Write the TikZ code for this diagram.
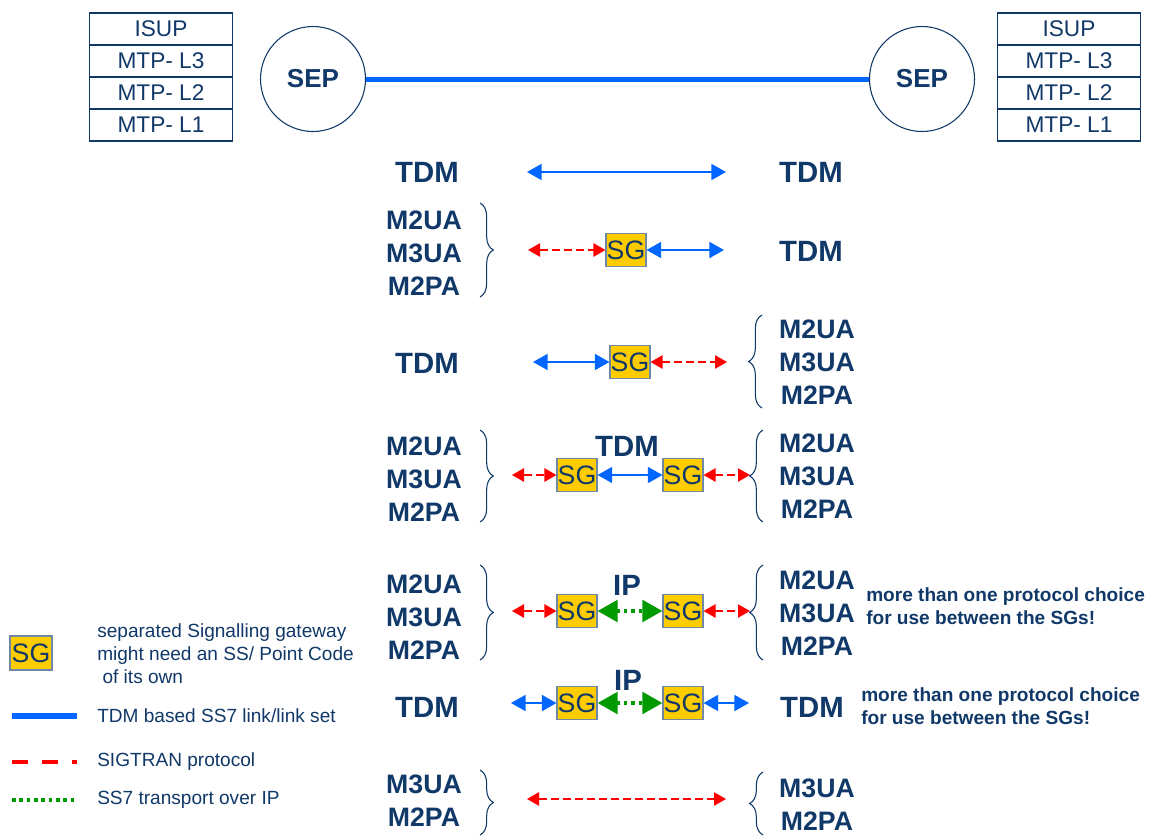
\documentclass[tikz,border=0pt]{standalone}
\usepackage{fontspec}
\setmainfont{Liberation Sans}
\usetikzlibrary{positioning,arrows.meta,decorations.pathreplacing}

\definecolor{navy}{RGB}{16,56,104}
\definecolor{tdmblue}{RGB}{0,102,255}
\definecolor{sigred}{RGB}{255,0,0}
\definecolor{ipgreen}{RGB}{0,153,0}
\definecolor{sgyellow}{RGB}{255,204,0}

\tikzset{
  layer/.style={draw=navy, line width=0.8pt, minimum width=107pt, minimum height=24pt, inner sep=0pt, outer sep=0pt, text=navy, font=\fontsize{17}{17}\selectfont},
  sepnode/.style={circle, draw=navy, line width=0.8pt, minimum size=78.75pt, inner sep=0pt, text=navy, font=\bfseries\fontsize{19.5}{20}\selectfont},
  sg/.style={draw=navy!60, line width=0.8pt, fill=sgyellow, minimum width=30pt, minimum height=25pt, inner sep=0pt, text=navy, font=\fontsize{20}{20}\selectfont},
  big/.style={text=navy, font=\bfseries\fontsize{22}{22}\selectfont},
  proto/.style={align=center, text=navy, font=\bfseries\fontsize{20}{24.75}\selectfont},
  note/.style={anchor=west, align=left, inner sep=0pt, text=navy, font=\bfseries\fontsize{14.3}{17.25}\selectfont},
  legtxt/.style={anchor=west, align=left, inner sep=0pt, text=navy, font=\fontsize{14.3}{17.25}\selectfont},
  tdm/.style={draw=tdmblue, line width=1.5pt, {Triangle[length=11pt,width=12pt]}-{Triangle[length=11pt,width=12pt]}},
  sigtran/.style={draw=sigred, line width=1.1pt, dash pattern=on 6pt off 3pt, {Triangle[length=9pt,width=10pt]}-{Triangle[length=9pt,width=10pt]}},
  ss7ip/.style={draw=ipgreen, line width=3pt, dash pattern=on 2.5pt off 3pt, {Triangle[length=15pt,width=16pt]}-{Triangle[length=15pt,width=16pt]}},
  brc/.style={draw=navy, line width=0.8pt, decorate, decoration={brace, amplitude=10pt}},
}

\begin{document}
\begin{tikzpicture}[x=0.75pt,y=0.75pt,yscale=-1,xscale=1]
\useasboundingbox (0,0) rectangle (1149,836);

% Protocol stacks
\node[layer] (isupl) at (161,29) {ISUP};
\node[layer, below=0pt of isupl] (mtp3l) {MTP- L3};
\node[layer, below=0pt of mtp3l] (mtp2l) {MTP- L2};
\node[layer, below=0pt of mtp2l] (mtp1l) {MTP- L1};
\node[layer] (isupr) at (1069,29) {ISUP};
\node[layer, below=0pt of isupr] (mtp3r) {MTP- L3};
\node[layer, below=0pt of mtp3r] (mtp2r) {MTP- L2};
\node[layer, below=0pt of mtp2r] (mtp1r) {MTP- L1};

% SEPs
\node[sepnode] (sepl) at (313,79) {SEP};
\node[sepnode] (sepr) at (922,79) {SEP};
\draw[tdmblue, line width=3.75pt] (sepl) -- (sepr);

% Row 1
\node[big] (tdm1l) at (427,172) {TDM};
\node[big] (tdm1r) at (811,172) {TDM};
\coordinate (a1l) at (527,172);
\coordinate (a1r) at (726,172);
\draw[tdm] (a1l) -- (a1r);

% Row 2
\node[proto] (p2l) at (424,253) {M2UA\\M3UA\\M2PA};
\coordinate (b2t) at (480,203);
\coordinate (b2b) at (480,297);
\draw[brc] (b2t) -- (b2b);
\node[sg] (sg2) at (626,250) {SG};
\coordinate (a2l) at (528,250);
\coordinate (a2r) at (724,250);
\draw[sigtran] (a2l) -- (sg2);
\draw[tdm] (sg2) -- (a2r);
\node[big] (tdm2r) at (811,251) {TDM};

% Row 3
\node[big] (tdm3l) at (427,363) {TDM};
\node[sg] (sg3) at (630,362) {SG};
\coordinate (a3l) at (533,362);
\coordinate (a3r) at (727,362);
\draw[tdm] (a3l) -- (sg3);
\draw[sigtran] (sg3) -- (a3r);
\coordinate (b3t) at (762,315);
\coordinate (b3b) at (762,408);
\draw[brc] (b3b) -- (b3t);
\node[proto] (p3r) at (817,362) {M2UA\\M3UA\\M2PA};

% Row 4
\node[proto] (p4l) at (424,479) {M2UA\\M3UA\\M2PA};
\coordinate (b4lt) at (480,430);
\coordinate (b4lb) at (480,522);
\draw[brc] (b4lt) -- (b4lb);
\node[sg] (sg4a) at (577,475) {SG};
\node[sg] (sg4b) at (683,475) {SG};
\node[big] (tdm4) at (627,446) {TDM};
\coordinate (a4l) at (512,475);
\coordinate (a4r) at (750,475);
\draw[sigtran] (a4l) -- (sg4a);
\draw[tdm] (sg4a) -- (sg4b);
\draw[sigtran] (sg4b) -- (a4r);
\coordinate (b4rt) at (763,430);
\coordinate (b4rb) at (763,522);
\draw[brc] (b4rb) -- (b4rt);
\node[proto] (p4r) at (817,476) {M2UA\\M3UA\\M2PA};

% Row 5
\node[proto] (p5l) at (424,617) {M2UA\\M3UA\\M2PA};
\coordinate (b5lt) at (480,565);
\coordinate (b5lb) at (480,660);
\draw[brc] (b5lt) -- (b5lb);
\node[sg] (sg5a) at (577,611) {SG};
\node[sg] (sg5b) at (683,611) {SG};
\node[big] (ip5) at (627,585) {IP};
\coordinate (a5l) at (512,611);
\coordinate (a5r) at (750,611);
\draw[sigtran] (a5l) -- (sg5a);
\draw[ss7ip] (sg5a) -- (sg5b);
\draw[sigtran] (sg5b) -- (a5r);
\coordinate (b5rt) at (763,565);
\coordinate (b5rb) at (763,660);
\draw[brc] (b5rb) -- (b5rt);
\node[proto] (p5r) at (817,613) {M2UA\\M3UA\\M2PA};
\node[note] (n5) at (866,606) {more than one protocol choice\\for use between the SGs!};

% Row 6
\node[big] (tdm6l) at (427,707) {TDM};
\node[sg] (sg6a) at (577,703) {SG};
\node[sg] (sg6b) at (683,703) {SG};
\node[big] (ip6) at (628,680) {IP};
\coordinate (a6l) at (511,703);
\coordinate (a6r) at (749,703);
\draw[tdm] (a6l) -- (sg6a);
\draw[ss7ip] (sg6a) -- (sg6b);
\draw[tdm] (sg6b) -- (a6r);
\node[big] (tdm6r) at (812,707) {TDM};
\node[note] (n6) at (861,706) {more than one protocol choice\\for use between the SGs!};

% Row 7
\node[proto] (p7l) at (424,801) {M3UA\\M2PA};
\coordinate (b7lt) at (480,770);
\coordinate (b7lb) at (480,835);
\draw[brc] (b7lt) -- (b7lb);
\coordinate (a7l) at (527,799);
\coordinate (a7r) at (726,799);
\draw[sigtran] (a7l) -- (a7r);
\coordinate (b7rt) at (763,772);
\coordinate (b7rb) at (763,835);
\draw[brc] (b7rb) -- (b7rt);
\node[proto] (p7r) at (817,805) {M3UA\\M2PA};

% Legend
\node[sg, minimum width=31.5pt, minimum height=25.5pt] (sgkey) at (31,653) {SG};
\node[legtxt] (sgtxt) at (97,654) {separated Signalling gateway\\might need an SS/ Point Code\\\ of its own};
\coordinate (k1a) at (12,716);
\coordinate (k1b) at (77,716);
\draw[tdmblue, line width=4.5pt] (k1a) -- (k1b);
\node[legtxt] (k1txt) at (97,716) {TDM based SS7 link/link set};
\coordinate (k2a) at (12,762);
\coordinate (k2b) at (77,762);
\draw[sigred, line width=3pt, dash pattern=on 12pt off 10.5pt] (k2a) -- (k2b);
\node[legtxt] (k2txt) at (97,762) {SIGTRAN protocol};
\coordinate (k3a) at (12,800);
\coordinate (k3b) at (77,800);
\draw[ipgreen, line width=3pt, dash pattern=on 2.7pt off 2.8pt] (k3a) -- (k3b);
\node[legtxt] (k3txt) at (97,800) {SS7 transport over IP};
\end{tikzpicture}
\end{document}
